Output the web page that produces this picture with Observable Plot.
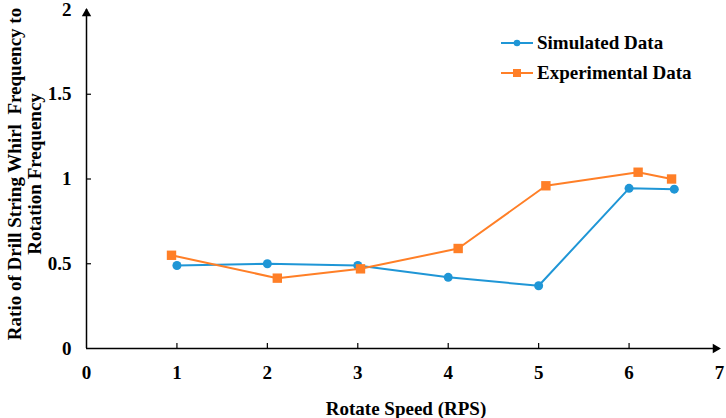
<!DOCTYPE html>
<html>
<head>
<meta charset="utf-8">
<script src="https://cdn.jsdelivr.net/npm/d3@7"></script>
<script src="https://cdn.jsdelivr.net/npm/@observablehq/plot@0.6"></script>
<style>
  html, body { margin: 0; padding: 0; background: #fff; }
  #chart { position: relative; width: 726px; height: 418px; }
</style>
</head>
<body>
<div id="chart"></div>
<script>
// ---- data ----
const seriesNames = ["Simulated Data", "Experimental Data"];
const seriesColors = ["#1f96d6", "#ff7f27"];
const simX = [1, 2, 3, 4, 5, 6, 6.5];
const simY = [0.49, 0.50, 0.49, 0.42, 0.37, 0.945, 0.94];
const expX = [0.94, 2.11, 3.03, 4.11, 5.08, 6.1, 6.47];
const expY = [0.55, 0.415, 0.47, 0.59, 0.96, 1.04, 1.0];
const xTicks = [0, 1, 2, 3, 4, 5, 6, 7];
const yTicks = [0, 0.5, 1, 1.5, 2];
const xTickMarks = [1, 2, 3, 4, 5, 6];
const yTickMarks = [0.5, 1, 1.5];
const xTitle = "Rotate Speed (RPS)";
const yTitle = "Ratio of Drill String Whirl  Frequency to\nRotation Frequency";

const sim = simX.map((x, i) => ({x, y: simY[i]}));
const exp = expX.map((x, i) => ({x, y: expY[i]}));

const font = "'Liberation Serif', 'Times New Roman', serif";

const svg = Plot.plot({
  width: 726,
  height: 418,
  marginLeft: 86,
  marginRight: 7,
  marginTop: 9,
  marginBottom: 70,
  style: {fontFamily: font, fontSize: "19px", fontWeight: "bold", color: "#000", background: "#fff", overflow: "visible"},
  x: {domain: [0, 7]},
  y: {domain: [0, 2]},
  marks: [
    Plot.axisX({ticks: xTicks, tickSize: 0, tickPadding: 17, tickFormat: d => String(d), label: null}),
    Plot.axisY({ticks: yTicks, tickSize: 0, tickPadding: 15, tickFormat: d => String(d), label: null}),
    Plot.ruleY([0], {stroke: "#000", strokeWidth: 1.5}),
    Plot.ruleX([0], {stroke: "#000", strokeWidth: 1.5}),
    Plot.ruleX(xTickMarks, {y1: 0, y2: 0, insetBottom: 5, stroke: "#000", strokeWidth: 1.2}),
    Plot.ruleY(yTickMarks, {x1: 0, x2: 0, insetRight: -5, stroke: "#000", strokeWidth: 1.2}),
    Plot.dot([0], {x: 0, y: 2, symbol: "triangle2", r: 4.5, fill: "#000", dy: 4}),
    Plot.dot([0], {x: 7, y: 0, symbol: "triangle2", r: 4.5, fill: "#000", rotate: 90, dx: -4}),
    Plot.line(sim, {x: "x", y: "y", stroke: seriesColors[0], strokeWidth: 2}),
    Plot.dot(sim, {x: "x", y: "y", fill: seriesColors[0], r: 4.5, symbol: "circle"}),
    Plot.line(exp, {x: "x", y: "y", stroke: seriesColors[1], strokeWidth: 2}),
    Plot.dot(exp, {x: "x", y: "y", fill: seriesColors[1], r: 5.3, symbol: "square"}),
    Plot.text([xTitle], {frameAnchor: "bottom", text: d => d, dx: 3, dy: 60, lineAnchor: "middle", textAnchor: "middle"}),
    Plot.text([yTitle], {frameAnchor: "left", text: d => d, rotate: -90, dx: -62, dy: -5, lineAnchor: "middle", textAnchor: "middle", lineHeight: 1.05})
  ]
});

// legend
const g = d3.select(svg).append("g")
  .attr("font-family", font).attr("font-weight", "bold").attr("font-size", "19px").attr("text-anchor", "start");
seriesNames.forEach((name, i) => {
  const y = 43 + i * 30;
  const item = g.append("g").attr("transform", `translate(501,${y})`);
  item.append("line").attr("x1", 0).attr("x2", 32).attr("y1", 0).attr("y2", 0)
    .attr("stroke", seriesColors[i]).attr("stroke-width", 2);
  if (i === 0) item.append("circle").attr("cx", 16).attr("cy", 0).attr("r", 3.3).attr("fill", seriesColors[i]);
  else item.append("rect").attr("x", 12).attr("y", -4).attr("width", 8).attr("height", 8).attr("fill", seriesColors[i]);
  item.append("text").attr("x", 36).attr("y", 0).attr("dy", "0.32em").attr("fill", "#000").text(name);
});

document.getElementById("chart").appendChild(svg);
</script>
</body>
</html>
